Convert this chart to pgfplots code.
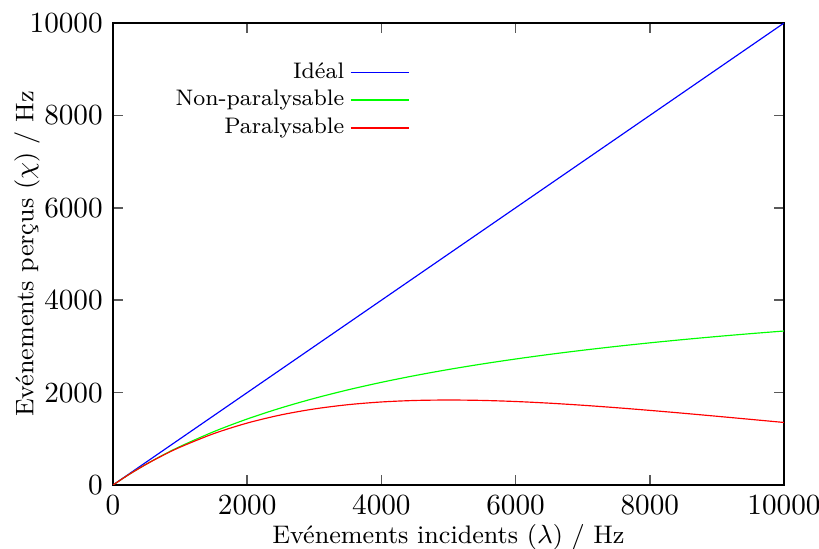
\documentclass[border=0pt]{standalone}
\usepackage{pgfplots}
\pgfplotsset{compat=1.18}
\begin{document}
\begin{tikzpicture}
\begin{axis}[
  scale only axis,
  width=229.8pt, height=158.2pt,
  xmin=0, xmax=10000, ymin=0, ymax=10000,
  xtick={0,2000,...,10000}, ytick={0,2000,...,10000},
  scaled ticks=false,
  xticklabel style={/pgf/number format/.cd,fixed,1000 sep={}},
  yticklabel style={/pgf/number format/.cd,fixed,1000 sep={}},
  tick align=inside,
  major tick length=3.4pt,
  tick style={gray!70!black, line width=0.6pt},
  axis line style={line width=0.6pt},
  xlabel={Evénements incidents ($\lambda$) / Hz},
  ylabel={Evénements perçus ($\chi$) / Hz},
  every axis x label/.style={at={(axis description cs:0.5,-0.113)}, anchor=center, font=\fontsize{8.7}{10.5}\selectfont},
  every axis y label/.style={at={(axis description cs:-0.128,0.5)}, anchor=center, rotate=90, font=\fontsize{8.7}{10.5}\selectfont},
  legend style={draw=none, fill=none, at={(0.456,0.9415)}, anchor=north east,
    row sep=-1.35pt, font=\fontsize{7.7}{9.3}\selectfont},
  legend cell align=right,
  legend plot pos=right,
]
\addlegendimage{legend image code/.code={\draw[blue, line width=0.5pt] (0cm,0cm) -- (0.7cm,0cm);}}
\addlegendentry{Idéal}
\addlegendimage{legend image code/.code={\draw[green, line width=0.5pt] (0cm,0cm) -- (0.7cm,0cm);}}
\addlegendentry{Non-paralysable}
\addlegendimage{legend image code/.code={\draw[red, line width=0.5pt] (0cm,0cm) -- (0.7cm,0cm);}}
\addlegendentry{Paralysable}
\addplot[blue, line width=0.4pt, forget plot] coordinates {(0,0) (10000,10000)};
\addplot[green, line width=0.4pt, smooth, forget plot] coordinates {
(0,0) (250,238.1) (500,454.5) (750,652.2) (1000,833.3) (1500,1153.8)
(2000,1428.6) (2500,1666.7) (3000,1875) (3500,2058.8) (4000,2222.2)
(4500,2368.4) (5000,2500) (5500,2619.0) (6000,2727.3) (6500,2826.1)
(7000,2916.7) (7500,3000) (8000,3076.9) (8500,3148.1) (9000,3214.3)
(9500,3275.9) (10000,3333.3)};
\addplot[red, line width=0.4pt, smooth, forget plot] coordinates {
(0,0) (250,237.8) (500,452.4) (750,645.5) (1000,818.7) (1500,1111.2)
(2000,1340.6) (2500,1516.3) (3000,1646.4) (3500,1738.0) (4000,1797.3)
(4500,1829.6) (5000,1839.4) (5500,1830.8) (6000,1807.2) (6500,1771.5)
(7000,1726.2) (7500,1673.5) (8000,1615.2) (8500,1552.8) (9000,1487.7)
(9500,1420.9) (10000,1353.4)};
\end{axis}
\pgfresetboundingbox
\path ([shift={(-38.7pt,-21.9pt)}]current axis.south west) rectangle ([shift={(12pt,7.9pt)}]current axis.north east);
\end{tikzpicture}
\end{document}
